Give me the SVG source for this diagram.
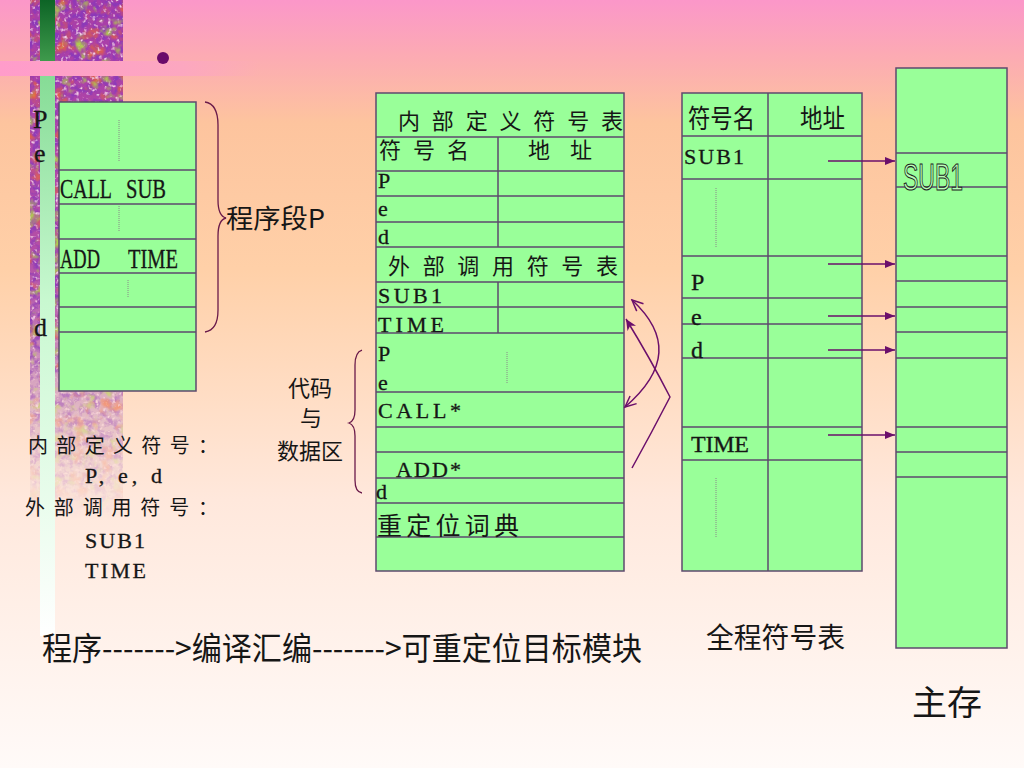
<svg xmlns="http://www.w3.org/2000/svg" width="1024" height="768" viewBox="0 0 1024 768">
<defs>
<style>
.cell{fill:#99ff99;stroke:#5e4a6e;stroke-width:1.5}
.ln{stroke:#5e4a6e;stroke-width:1.5;fill:none}
.dot{stroke:#8a8a8a;stroke-width:1;stroke-dasharray:1 1;fill:none}
.t{font-family:"Liberation Serif","Noto Sans CJK SC",serif;fill:#161616;stroke:#161616;stroke-width:0.3}
.c{font-family:"Noto Sans CJK SC","Liberation Sans",sans-serif;fill:#161616}
.br{fill:none;stroke:#6a1a4a;stroke-width:1.3}
.arr{fill:none;stroke:#6b0f6b;stroke-width:1.5}
</style>
<linearGradient id="bg" x1="0" y1="0" x2="0" y2="1">
<stop offset="0" stop-color="#fb97c9"/>
<stop offset="0.07" stop-color="#fcaab4"/>
<stop offset="0.16" stop-color="#fdc49e"/>
<stop offset="0.35" stop-color="#ffd0a8"/>
<stop offset="0.65" stop-color="#ffe8dc"/>
<stop offset="1" stop-color="#fffaf8"/>
</linearGradient>
<linearGradient id="band" x1="0" y1="0" x2="1" y2="0">
<stop offset="0" stop-color="#ff9ccb"/>
<stop offset="0.7" stop-color="#fca7c0"/>
<stop offset="1" stop-color="#fca7c0" stop-opacity="0"/>
</linearGradient>
<linearGradient id="gtop" x1="0" y1="0" x2="0" y2="1">
<stop offset="0" stop-color="#0d6426"/>
<stop offset="1" stop-color="#3f9a4c"/>
</linearGradient>
<linearGradient id="glow" x1="0" y1="0" x2="0" y2="1">
<stop offset="0" stop-color="#86dc96"/>
<stop offset="0.4" stop-color="#c8f8d0"/>
<stop offset="1" stop-color="#ffffff"/>
</linearGradient>
<linearGradient id="fade" x1="0" y1="0" x2="0" y2="1">
<stop offset="0" stop-color="#fff" stop-opacity="1"/>
<stop offset="0.62" stop-color="#fff" stop-opacity="0.95"/>
<stop offset="0.8" stop-color="#fff" stop-opacity="0.5"/>
<stop offset="1" stop-color="#fff" stop-opacity="0"/>
</linearGradient>
<linearGradient id="texbase" x1="0" y1="0" x2="0" y2="1">
<stop offset="0" stop-color="#a83ca8"/>
<stop offset="0.5" stop-color="#b24aa6"/>
<stop offset="0.75" stop-color="#c48cc0"/>
<stop offset="1" stop-color="#d8c8c8"/>
</linearGradient>
<mask id="texmask" maskUnits="userSpaceOnUse" x="0" y="0" width="200" height="520">
<rect x="0" y="0" width="200" height="520" fill="url(#fade)"/>
</mask>
<filter id="tex" x="0" y="0" width="1" height="1" color-interpolation-filters="sRGB">
<feTurbulence type="fractalNoise" baseFrequency="0.15" numOctaves="3" seed="5" result="n3"/>
<feColorMatrix in="n3" type="matrix" values="0 0 0 0 0.55  0 0 0 0 0.22  0 0 0 0 0.72  0 0 3.2 0 -1.3" result="purple"/>
<feTurbulence type="fractalNoise" baseFrequency="0.07" numOctaves="3" seed="3" result="n1"/>
<feColorMatrix in="n1" type="matrix" values="0 0 0 0 0.9  0 0 0 0 0.38  0 0 0 0 0.25  3.5 0 0 0 -1.9" result="orange"/>
<feTurbulence type="fractalNoise" baseFrequency="0.08" numOctaves="3" seed="11" result="n2"/>
<feColorMatrix in="n2" type="matrix" values="0 0 0 0 0.68  0 0 0 0 0.8  0 0 0 0 0.3  0 3.5 0 0 -1.95" result="green"/>
<feTurbulence type="fractalNoise" baseFrequency="0.25" numOctaves="2" seed="21" result="n4"/>
<feColorMatrix in="n4" type="matrix" values="0 0 0 0 0.95  0 0 0 0 0.8  0 0 0 0 0.9  0 0 0 4 -2.3" result="white"/>
<feMerge result="m">
<feMergeNode in="SourceGraphic"/>
<feMergeNode in="purple"/>
<feMergeNode in="orange"/>
<feMergeNode in="green"/>
<feMergeNode in="white"/>
</feMerge>
<feComposite in="m" in2="SourceGraphic" operator="in"/>
</filter>
<marker id="ah" markerUnits="userSpaceOnUse" markerWidth="10" markerHeight="8" refX="10" refY="4" orient="auto">
<path d="M0,0 L10,4 L0,8 z" fill="#6b0f6b"/>
</marker>
<marker id="ahc" markerUnits="userSpaceOnUse" markerWidth="12" markerHeight="10" refX="11" refY="5" orient="auto-start-reverse">
<path d="M0,0 L11,5 L0,10 L3,5 z" fill="#6b0f6b"/>
</marker>
<marker id="aho" markerUnits="userSpaceOnUse" markerWidth="14" markerHeight="12" refX="12" refY="6" orient="auto-start-reverse">
<path d="M1,1 L12,6 L1,11" fill="none" stroke="#6b0f6b" stroke-width="1.5"/>
</marker>
</defs>

<g id="background">
<rect x="0" y="0" width="1024" height="768" fill="url(#bg)"/>
<g mask="url(#texmask)">
<rect x="30" y="0" width="93" height="520" fill="url(#texbase)" filter="url(#tex)"/>
</g>
<rect x="40" y="0" width="15" height="61" fill="url(#gtop)"/>
<rect x="40" y="76" width="15" height="560" fill="url(#glow)"/>
<rect x="0" y="61" width="260" height="15" fill="url(#band)"/>
<circle cx="163" cy="58" r="6" fill="#6a0a6a"/>
</g>

<g id="program-segment">
<rect class="cell" x="59" y="102" width="137" height="289"/>
<path class="ln" d="M59,170H196M59,204H196M59,239H196M59,273H196M59,307H196M59,332H196"/>
<path class="dot" d="M119,120V162M119,206V232M128,280V298"/>
<text class="t" x="60" y="198" font-size="27" textLength="52" lengthAdjust="spacingAndGlyphs">CALL</text>
<text class="t" x="126" y="198" font-size="27" textLength="40" lengthAdjust="spacingAndGlyphs">SUB</text>
<text class="t" x="60" y="268" font-size="27" textLength="40" lengthAdjust="spacingAndGlyphs">ADD</text>
<text class="t" x="128" y="268" font-size="27" textLength="50" lengthAdjust="spacingAndGlyphs">TIME</text>
<text class="t" x="33" y="128" font-size="26">P</text>
<text class="t" x="34" y="162" font-size="26">e</text>
<text class="t" x="34" y="336" font-size="26">d</text>
<path class="br" d="M205,102 Q218,104 218,125 L218,200 Q218,216 226,218 Q218,220 218,236 L218,310 Q218,330 205,332"/>
<text class="c" x="226" y="228" font-size="26" textLength="99" lengthAdjust="spacingAndGlyphs">程序段P</text>
</g>

<g id="object-module">
<rect class="cell" x="376" y="93" width="248" height="478"/>
<path class="ln" d="M376,137H624M376,171H624M376,196H624M376,222H624M376,247H624M376,282H624M376,307H624M376,333H624M376,392H624M376,427H624M376,452H624M376,478H624M376,503H624M376,537H624"/>
<path class="ln" d="M498,137V247M498,282V333"/>
<path class="dot" d="M507,352V383"/>
<text class="c" x="398" y="129" font-size="22" textLength="225" lengthAdjust="spacing">内部定义符号表</text>
<text class="c" x="379" y="158" font-size="22" textLength="90" lengthAdjust="spacing">符号名</text>
<text class="c" x="528" y="158" font-size="22" textLength="64" lengthAdjust="spacing">地址</text>
<text class="t" x="378" y="188" font-size="22">P</text>
<text class="t" x="378" y="216" font-size="22">e</text>
<text class="t" x="378" y="244" font-size="22">d</text>
<text class="c" x="388" y="274" font-size="22" textLength="230" lengthAdjust="spacing">外部调用符号表</text>
<text class="t" x="378" y="303" font-size="22" textLength="64" lengthAdjust="spacing">SUB1</text>
<text class="t" x="378" y="332" font-size="22" textLength="66" lengthAdjust="spacing">TIME</text>
<text class="t" x="378" y="361" font-size="22">P</text>
<text class="t" x="378" y="390" font-size="22">e</text>
<text class="t" x="378" y="418" font-size="22" textLength="83" lengthAdjust="spacing">CALL*</text>
<text class="t" x="396" y="477" font-size="22" textLength="65" lengthAdjust="spacing">ADD*</text>
<text class="t" x="376" y="499" font-size="22">d</text>
<text class="c" x="377" y="535" font-size="25" textLength="142" lengthAdjust="spacing">重定位词典</text>
<path class="br" d="M362,350 Q355,352 355,365 L355,410 Q355,421 349,423 Q355,425 355,436 L355,480 Q355,492 362,493"/>
<text class="c" x="310" y="396" font-size="22" text-anchor="middle">代码</text>
<text class="c" x="311" y="426" font-size="22" text-anchor="middle">与</text>
<text class="c" x="310" y="459" font-size="22" text-anchor="middle">数据区</text>
</g>

<g id="global-symbol-table">
<rect class="cell" x="682" y="93" width="180" height="478"/>
<path class="ln" d="M682,136H862M682,179H862M682,256H862M682,298H862M682,324H862M682,358H862M682,427H862M682,460H862"/>
<path class="ln" d="M768,93V571"/>
<path class="dot" d="M716,188V248M716,478V538"/>
<text class="c" x="688" y="128" font-size="26" textLength="67" lengthAdjust="spacingAndGlyphs">符号名</text>
<text class="c" x="800" y="128" font-size="26" textLength="45" lengthAdjust="spacingAndGlyphs">地址</text>
<text class="t" x="684" y="164" font-size="22" textLength="60" lengthAdjust="spacing">SUB1</text>
<text class="t" x="691" y="290" font-size="24">P</text>
<text class="t" x="691" y="325" font-size="24">e</text>
<text class="t" x="691" y="358" font-size="24">d</text>
<text class="t" x="691" y="452" font-size="24" textLength="58" lengthAdjust="spacing">TIME</text>
<text class="c" x="706" y="648" font-size="28" textLength="139" lengthAdjust="spacingAndGlyphs">全程符号表</text>
</g>

<g id="main-memory">
<rect class="cell" x="896" y="68" width="111" height="580"/>
<path class="ln" d="M896,153H1007M896,187H1007M896,256H1007M896,281H1007M896,307H1007M896,332H1007M896,358H1007M896,427H1007M896,452H1007M896,477H1007"/>
<text x="903" y="190" font-size="36" font-family="Liberation Sans,sans-serif" fill="#b8ffb8" stroke="#1a1a1a" stroke-width="1.1" textLength="60" lengthAdjust="spacingAndGlyphs">SUB1</text>
<text class="c" x="912" y="715" font-size="34" textLength="70" lengthAdjust="spacingAndGlyphs">主存</text>
</g>

<g id="left-notes">
<text class="c" x="28" y="453" font-size="20" textLength="190" lengthAdjust="spacing">内部定义符号：</text>
<text class="t" x="85" y="483" font-size="22" textLength="77" lengthAdjust="spacing">P, e, d</text>
<text class="c" x="25" y="515" font-size="20" textLength="193" lengthAdjust="spacing">外部调用符号：</text>
<text class="t" x="85" y="548" font-size="22" textLength="60" lengthAdjust="spacing">SUB1</text>
<text class="t" x="85" y="578" font-size="22" textLength="61" lengthAdjust="spacing">TIME</text>
<text class="c" x="42" y="660" font-size="32" textLength="600" lengthAdjust="spacingAndGlyphs">程序------->编译汇编------->可重定位目标模块</text>
</g>

<g id="connectors">
<path class="arr" d="M632,468 Q652,432 670,397 Q650,358 626,319" marker-end="url(#ahc)"/>
<path class="arr" d="M632,300 C670,335 668,370 625,407" marker-start="url(#aho)" marker-end="url(#aho)"/>
<path class="arr" d="M828,161H895" marker-end="url(#ah)"/>
<path class="arr" d="M828,264H895" marker-end="url(#ah)"/>
<path class="arr" d="M828,316H895" marker-end="url(#ah)"/>
<path class="arr" d="M828,350H895" marker-end="url(#ah)"/>
<path class="arr" d="M828,435H895" marker-end="url(#ah)"/>
</g>
</svg>
